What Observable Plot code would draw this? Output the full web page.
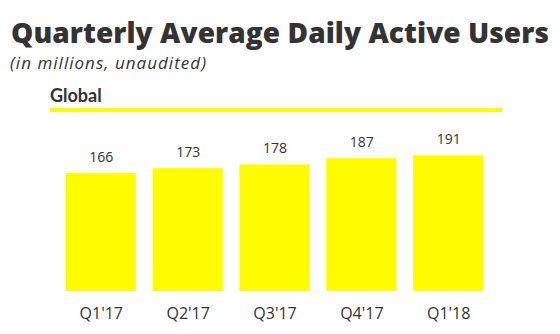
<!DOCTYPE html>
<html>
<head>
<meta charset="utf-8">
<script src="https://cdn.jsdelivr.net/npm/d3@7"></script>
<script src="https://cdn.jsdelivr.net/npm/@observablehq/plot@0.6"></script>
<style>
  html, body { margin: 0; padding: 0; background: #fff; }
  #wrap { position: relative; width: 560px; height: 334px; overflow: hidden; }
  #wrap svg { position: absolute; left: 0; top: 0; }
  .t { position: absolute; display: inline-block; white-space: nowrap; line-height: 1; color: #333333; font-family: "Open Sans", Lato, sans-serif; }
  #title { left: 11px; top: 17.5px; font-size: 28px; font-weight: 800; }
  #subtitle { left: 10px; top: 54px; font-size: 17px; font-style: italic; font-weight: 400; }
  #section { left: 50px; top: 86px; font-size: 18px; font-weight: 700; font-family: Lato, "Open Sans", sans-serif; }
  #rule { position: absolute; left: 50px; top: 108px; width: 452px; height: 4px; background: #FFFC00; }
</style>
</head>
<body>
<div id="wrap">
  <div id="chart"></div>
  <span class="t" id="title">Quarterly Average Daily Active Users</span>
  <span class="t" id="subtitle">(in millions, unaudited)</span>
  <span class="t" id="section">Global</span>
  <div id="rule"></div>
</div>
<script>
const quarters = ["Q1'17", "Q2'17", "Q3'17", "Q4'17", "Q1'18"];
const dau = [166, 173, 178, 187, 191];

const data = quarters.map((q, i) => ({quarter: q, value: dau[i]}));

const chart = Plot.plot({
  width: 560,
  height: 334,
  marginTop: 7,
  marginBottom: 43,
  marginLeft: 49,
  marginRight: 60,
  style: {fontFamily: "'Open Sans', sans-serif", color: "#333333", background: "transparent"},
  x: {domain: quarters, paddingInner: 0.193, paddingOuter: 0.193, round: false, label: null},
  y: {domain: [0, 400], axis: null},
  marks: [
    Plot.barY(data, {x: "quarter", y: "value", fill: "#FFFC00"}),
    Plot.text(data, {x: "quarter", y: "value", text: d => String(d.value), lineAnchor: "bottom", dy: -12, fontSize: 14, fill: "#333333"}),
    Plot.axisX({tickSize: 0, tickPadding: 16, fontSize: 16, label: null, fill: "#333333"})
  ]
});
document.getElementById("chart").appendChild(chart);

// fit text widths to the reference spans
function fit(id, target) {
  const el = document.getElementById(id);
  const w = el.getBoundingClientRect().width;
  const n = el.textContent.length;
  el.style.letterSpacing = ((target - w) / n) + "px";
}
fit("title", 538);
fit("subtitle", 197);
</script>
</body>
</html>
